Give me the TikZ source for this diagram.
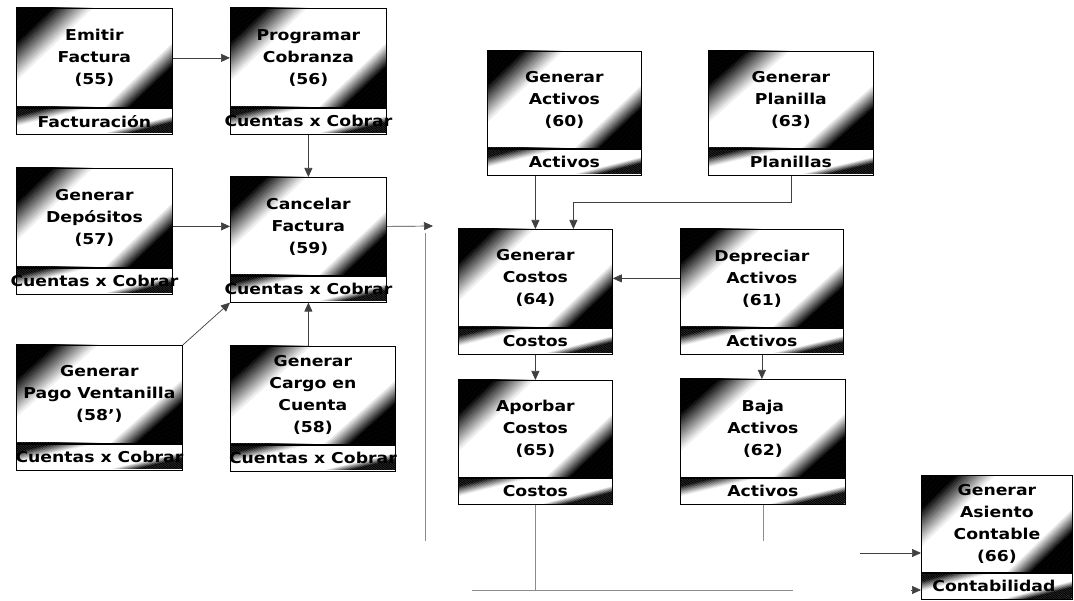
\documentclass[tikz,border=0pt]{standalone}
\usepackage{fontspec}
\setmainfont{DejaVu Sans}[FakeStretch=1.15]
\usetikzlibrary{arrows.meta}

% dark top-left corner, white band, dark bottom-right corner (stripes along 1.5s+t=k)
\newcommand\gradrect[4]{%
  \begin{scope}
    \clip ({#1},{#2}) rectangle ++({#3},{#4});
    \foreach \k in {0,0.025,...,2.5} {
      \pgfmathsetmacro\lvl{100*max(0,min(1,(\k-0.35)/0.4,(2.1-\k)/0.25))}
      \ifdim\lvl pt<99.5pt
        \fill[white!\lvl!black]
          ({#1+(\k+0.185)/1.5*#3},{#2-0.2*#4}) -- ({#1+(\k-1.215)/1.5*#3},{#2+1.2*#4})
          -- ({#1+(\k-1.185)/1.5*#3},{#2+1.2*#4}) -- ({#1+(\k+0.215)/1.5*#3},{#2-0.2*#4}) -- cycle;
      \fi
    }
  \end{scope}}

\tikzset{
  procbox/.style={draw=black, line width=0.8pt, inner sep=0pt, anchor=north west,
    align=center, font=\bfseries\fontsize{15}{22}\selectfont},
  areabox/.style={procbox, minimum height=26pt, font=\bfseries\fontsize{15}{18}\selectfont},
  flow/.style={draw=black!75, line width=0.7pt, -{Triangle[length=9pt,width=8pt]}},
  faint/.style={draw=black!45, line width=0.6pt},
}

\begin{document}
\begin{tikzpicture}[x=1pt,y=-1pt]
  \useasboundingbox (0,0) rectangle (1074,601);

  % process boxes, area strip below each
  \foreach \id/\x/\y/\w/\h/\txt/\area in {
    55/16/8/156/99/{Emitir\\Factura\\(55)}/{Facturación},
    56/230/8/156/99/{Programar\\Cobranza\\(56)}/{Cuentas x Cobrar},
    57/16/168/156/99/{Generar\\Depósitos\\(57)}/{Cuentas x Cobrar},
    59/230/177/156/98/{Cancelar\\Factura\\(59)}/{Cuentas x Cobrar},
    58b/16/345/166/98/{Generar\\Pago Ventanilla\\(58’)}/{Cuentas x Cobrar},
    58/230/346/165/98/{Generar\\Cargo en\\Cuenta\\(58)}/{Cuentas x Cobrar},
    60/487/51/154/97/{Generar\\Activos\\(60)}/{Activos},
    63/708/51/165/97/{Generar\\Planilla\\(63)}/{Planillas},
    64/458/229/154/98/{Generar\\Costos\\(64)}/{Costos},
    61/680/229/163/98/{Depreciar\\Activos\\(61)}/{Activos},
    65/458/380/154/97/{Aporbar\\Costos\\(65)}/{Costos},
    62/680/379/165/98/{Baja\\Activos\\(62)}/{Activos},
    66/921/475/151/97/{Generar\\Asiento\\Contable\\(66)}/{Contabilidad}
  } {
    \gradrect{\x}{\y}{\w}{\h}
    \gradrect{\x}{\y+\h}{\w}{26}
    \node[procbox, minimum width=\w pt, minimum height=\h pt] (n\id) at (\x,\y) {\txt};
    \node[areabox, minimum width=\w pt] (n\id-s) at (n\id.south west) {\makebox[0pt]{\area}};
  }

  \coordinate (out59) at (433,226);
  \coordinate (busA) at (425,233);
  \coordinate (busB) at (425,541);
  \coordinate (busC) at (472,590);
  \coordinate (busD) at (793,590);
  \coordinate (in66) at (860,553);
  \coordinate (in66s) at (911,590);

  \draw[flow] (n55) -- (n56);
  \draw[flow] (n56-s) -- (n59);
  \draw[flow] (n57.east |- n59.west) -- (n59.west);
  \draw[flow] (n58b.north east) -- (n59-s.south west);
  \draw[flow] (n59-s.south |- n58.north) -- (n59-s.south);
  \draw[flow] (n59.east) -- (out59);

  \draw[flow] (n64.north |- n60-s.south) -- (n64.north);
  \draw[flow] (n63-s.south) -- ++(0,27) -| ([xshift=38pt]n64.north);
  \draw[flow] (n61.west) -- (n64.east);
  \draw[flow] (n64-s) -- (n65);
  \draw[flow] (n61-s.south) -- (n61-s.south |- n62.north);

  % lines that end nowhere
  \draw[faint] (busA) -- (busB);
  \draw[faint] (busC) -- (busD);
  \draw[faint] (n65-s.south) -- (n65-s.south |- busC);
  \draw[faint] (n62-s.south) -- (n62-s.south |- busB);
  \draw[flow] (in66) -- (in66 -| n66.west);
  \draw[flow] (in66s) -- (in66s -| n66-s.west);
\end{tikzpicture}
\end{document}
